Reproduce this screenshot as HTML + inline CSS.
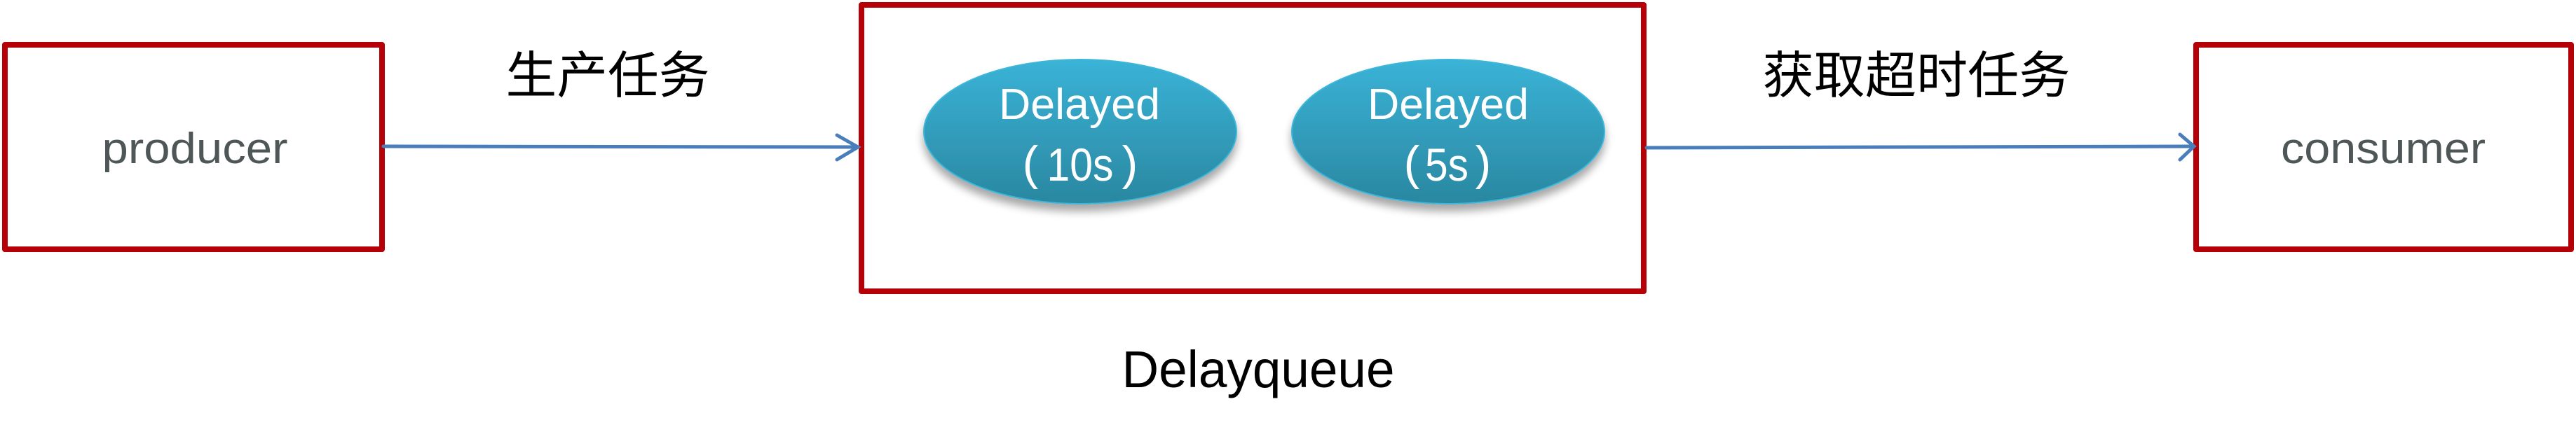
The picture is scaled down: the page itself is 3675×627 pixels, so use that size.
<!DOCTYPE html>
<html><head><meta charset="utf-8"><style>
html,body{margin:0;padding:0;background:#fff;width:3675px;height:627px;overflow:hidden}
</style></head><body>
<svg width="3675" height="627" viewBox="0 0 3675 627" xmlns="http://www.w3.org/2000/svg">
<defs>
<linearGradient id="g" x1="0" y1="0" x2="0" y2="1">
<stop offset="0" stop-color="#3ab3d7"/><stop offset="1" stop-color="#2a87a0"/>
</linearGradient>
<filter id="s" x="-20%" y="-20%" width="140%" height="150%">
<feGaussianBlur in="SourceAlpha" stdDeviation="6"/><feOffset dy="10"/>
<feComponentTransfer><feFuncA type="linear" slope="0.35"/></feComponentTransfer>
<feMerge><feMergeNode/><feMergeNode in="SourceGraphic"/></feMerge>
</filter>
</defs>
<g fill="none" stroke="#b50008" stroke-width="8" stroke-linejoin="round">
<rect x="7" y="64" width="538" height="292"/>
<rect x="1229" y="7" width="1116" height="409"/>
<rect x="3133" y="64" width="535" height="292"/>
</g>
<g stroke="#4a7ebb" stroke-width="5" fill="none" stroke-linecap="round">
<line x1="547" y1="209" x2="1222" y2="210"/>
<polyline points="1194,193 1224,210 1194,228"/>
<line x1="2349" y1="211" x2="3127" y2="209"/>
<polyline points="3110,192 3130,209 3110,228"/>
</g>
<g filter="url(#s)">
<ellipse cx="1541" cy="188" rx="223" ry="103" fill="url(#g)" stroke="#3db6d9" stroke-width="2"/>
<ellipse cx="2066" cy="188" rx="223" ry="103" fill="url(#g)" stroke="#3db6d9" stroke-width="2"/>
</g>
<g font-family="'Liberation Sans','Noto Sans CJK SC',sans-serif" text-anchor="middle">
<text x="1540" y="170" font-size="62" fill="#fff" textLength="230" lengthAdjust="spacingAndGlyphs">Delayed</text>
<text x="1541" y="258" font-size="66" fill="#fff" textLength="95" lengthAdjust="spacingAndGlyphs">10s</text>
<text x="1470" y="256" font-size="68" fill="#fff" font-weight="300">(</text>
<text x="1612" y="256" font-size="68" fill="#fff">)</text>
<text x="2066" y="170" font-size="62" fill="#fff" textLength="230" lengthAdjust="spacingAndGlyphs">Delayed</text>
<text x="2064" y="258" font-size="66" fill="#fff" textLength="62" lengthAdjust="spacingAndGlyphs">5s</text>
<text x="2014" y="256" font-size="68" fill="#fff">(</text>
<text x="2116" y="256" font-size="68" fill="#fff">)</text>
<text x="278" y="233" font-size="62" fill="#4f5657" textLength="265" lengthAdjust="spacingAndGlyphs">producer</text>
<text x="3400" y="233" font-size="62" fill="#4f5657" textLength="292" lengthAdjust="spacingAndGlyphs">consumer</text>
<text x="1795" y="553" font-size="74" fill="#000" textLength="389" lengthAdjust="spacingAndGlyphs">Delayqueue</text>
<text x="867" y="133" font-size="72" fill="#000" textLength="291" lengthAdjust="spacingAndGlyphs">生产任务</text>
<text x="2734" y="133" font-size="72" fill="#000" textLength="439" lengthAdjust="spacingAndGlyphs">获取超时任务</text>
</g>
</svg>
</body></html>
